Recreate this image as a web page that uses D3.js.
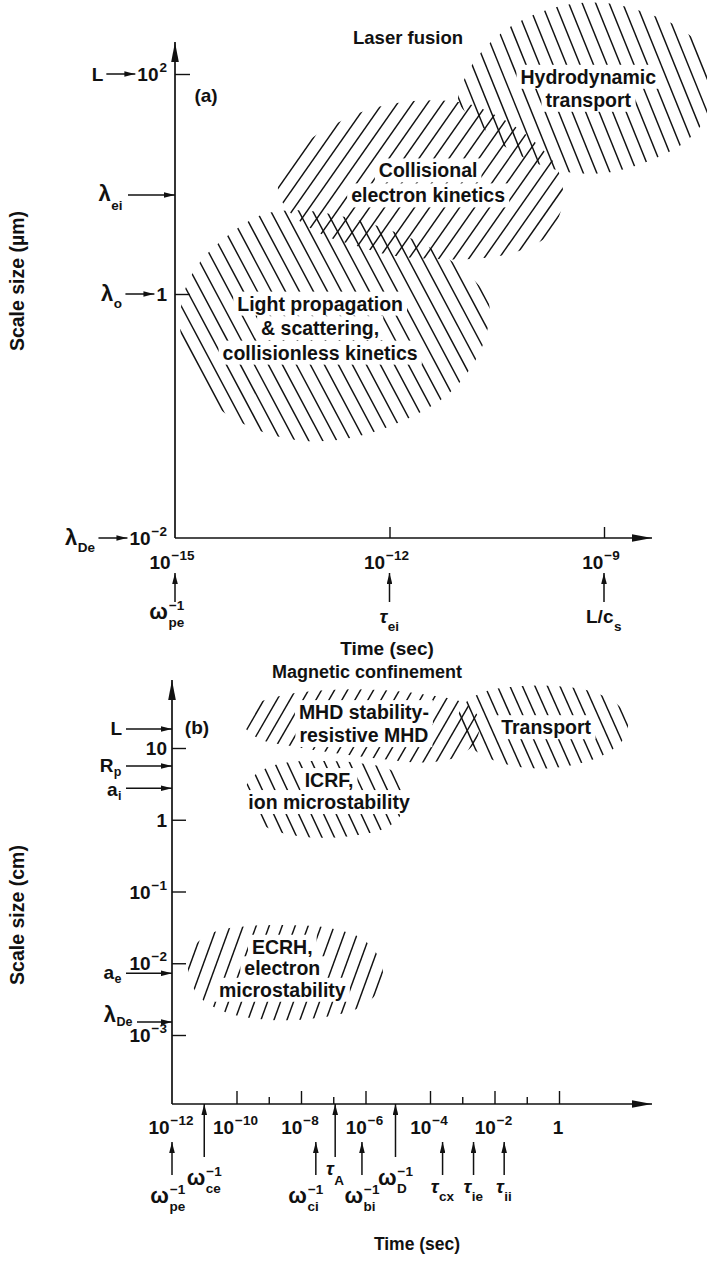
<!DOCTYPE html>
<html>
<head>
<meta charset="utf-8">
<script src="https://cdn.jsdelivr.net/npm/d3@7"></script>
<style>
  body { margin: 0; background: #fff; }
  text { font-family: "Liberation Sans", Arial, Helvetica, sans-serif; font-weight: bold; fill: #111; }
</style>
</head>
<body>
<div id="chart"></div>
<script>
const width = 707, height = 1261;

// ---------- panel (a): laser fusion ----------
const aTimeTicks = [1e-15, 1e-12, 1e-9];
const aTimeTickExp = ["−15", "−12", "−9"];
const aSizeTicks = [1e-2, 1, 1e2];
const aSizeTickBase = ["10", "1", "10"];
const aSizeTickExp = ["−2", "", "2"];
const aSizeNames = [{ base: "λ", sub: "De" }, { base: "λ", sub: "o" }, { base: "L" }];
const aAxisMarks = [{ value: Math.pow(10, 0.9), base: "λ", sub: "ei" }];
const aTimeMarks = [
  { value: 1e-15, base: "ω", sup: "−1", sub: "pe" },
  { value: 1e-12, base: "τ", sub: "ei" },
  { value: 1e-9, base: "L/c", sub: "s" }
];
// outlines in log10(sec), log10(µm)
const aRegions = [
  { name: "light", lines: ["Light propagation", "& scattering,", "collisionless kinetics"], at: [-12.97, -0.28],
    outline: [[-14.93, -0.25], [-14.86, 0.04], [-14.65, 0.29], [-14.30, 0.51], [-13.78, 0.72], [-13.22, 0.76],
      [-12.62, 0.70], [-11.99, 0.58], [-11.43, 0.42], [-10.94, 0.20], [-10.62, -0.05], [-10.65, -0.34],
      [-10.87, -0.61], [-11.22, -0.84], [-11.78, -1.03], [-12.55, -1.18], [-13.25, -1.20], [-13.95, -1.09],
      [-14.48, -0.89], [-14.82, -0.58]] },
  { name: "collisional", lines: ["Collisional", "electron kinetics"], at: [-11.46, 1.01],
    outline: [[-13.56, 0.95], [-13.43, 1.19], [-13.18, 1.37], [-12.83, 1.52], [-12.41, 1.65], [-11.85, 1.74],
      [-11.29, 1.76], [-10.90, 1.73], [-10.59, 1.65], [-10.24, 1.52], [-9.90, 1.34], [-9.66, 1.15],
      [-9.57, 0.92], [-9.62, 0.72], [-9.80, 0.52], [-10.24, 0.38], [-10.80, 0.32], [-11.43, 0.32],
      [-11.97, 0.35], [-12.48, 0.44], [-13.00, 0.56], [-13.39, 0.74]] },
  { name: "hydro", lines: ["Hydrodynamic", "transport"], at: [-9.22, 1.87],
    outline: [[-11.04, 1.76], [-10.90, 2.02], [-10.66, 2.24], [-10.31, 2.43], [-9.90, 2.56], [-9.41, 2.64],
      [-8.92, 2.64], [-8.43, 2.56], [-7.94, 2.42], [-7.59, 2.20], [-7.43, 1.90], [-7.55, 1.63],
      [-7.83, 1.40], [-8.33, 1.22], [-8.89, 1.11], [-9.41, 1.10], [-9.83, 1.16], [-10.15, 1.25],
      [-10.41, 1.35], [-10.66, 1.49], [-10.90, 1.63]] }
];

// ---------- panel (b): magnetic confinement ----------
const bTimeTicksMajor = [1e-12, 1e-10, 1e-8, 1e-6, 1e-4, 1e-2, 1];
const bTimeTickExp = ["−12", "−10", "−8", "−6", "−4", "−2", ""];
const bTimeTicksMinor = [1e-9, 1e-7, 1e-3, 1e-1];
const bSizeTicks = [1e-3, 1e-2, 1e-1, 1, 10];
const bSizeTickBase = ["10", "10", "10", "1", "10"];
const bSizeTickExp = ["−3", "−2", "−1", "", ""];
const bSizeMarks = [
  { value: Math.pow(10, 1.265), base: "L" },
  { value: Math.pow(10, 0.75), base: "R", sub: "p" },
  { value: Math.pow(10, 0.44), base: "a", sub: "i" },
  { value: Math.pow(10, -2.14), base: "a", sub: "e" },
  { value: Math.pow(10, -2.82), base: "λ", sub: "De" }
];
const bTimeMarks = [
  { value: 1e-12, base: "ω", sup: "−1", sub: "pe", long: false },
  { value: 1e-11, base: "ω", sup: "−1", sub: "ce", long: true },
  { value: Math.pow(10, -7.54), base: "ω", sup: "−1", sub: "ci", long: false },
  { value: Math.pow(10, -6.94), base: "τ", sub: "A", long: true },
  { value: Math.pow(10, -6.11), base: "ω", sup: "−1", sub: "bi", long: false },
  { value: Math.pow(10, -5.07), base: "ω", sup: "−1", sub: "D", long: true },
  { value: Math.pow(10, -3.61), base: "τ", sub: "cx", long: false },
  { value: Math.pow(10, -2.65), base: "τ", sub: "ie", long: false },
  { value: Math.pow(10, -1.70), base: "τ", sub: "ii", long: false }
];
// outlines in log10(sec), log10(cm)
const bRegions = [
  { name: "mhd", lines: ["MHD stability-", "resistive MHD"], at: [-6.05, 1.34],
    outline: [[-9.81, 1.36], [-9.44, 1.60], [-8.51, 1.74], [-7.12, 1.81], [-5.58, 1.81], [-4.04, 1.74],
      [-2.96, 1.63], [-2.49, 1.42], [-2.56, 1.11], [-3.05, 0.90], [-4.04, 0.80], [-5.58, 0.85],
      [-7.12, 0.94], [-8.36, 1.03], [-9.35, 1.14]] },
  { name: "transport", lines: ["Transport"], at: [-0.40, 1.29],
    outline: [[-3.17, 1.32], [-2.96, 1.60], [-2.34, 1.78], [-1.26, 1.86], [-0.02, 1.86], [1.06, 1.78],
      [1.83, 1.60], [2.14, 1.36], [1.98, 1.11], [1.36, 0.90], [0.28, 0.75], [-0.95, 0.72],
      [-2.03, 0.83], [-2.80, 1.04]] },
  { name: "icrf", lines: ["ICRF,", "ion microstability"], at: [-7.13, 0.40],
    outline: [[-9.75, 0.41], [-9.44, 0.62], [-8.67, 0.78], [-7.43, 0.82], [-6.20, 0.79], [-5.12, 0.67],
      [-4.72, 0.41], [-4.81, 0.14], [-5.27, -0.09], [-6.51, -0.23], [-8.05, -0.23], [-9.13, -0.09],
      [-9.65, 0.14]] },
  { name: "ecrh", lines: ["ECRH,", "electron", "microstability"], at: [-8.58, -2.07],
    outline: [[-11.51, -2.02], [-11.29, -1.75], [-10.67, -1.56], [-9.59, -1.48], [-8.36, -1.47], [-7.12, -1.51],
      [-6.04, -1.68], [-5.49, -2.02], [-5.58, -2.37], [-6.20, -2.62], [-7.43, -2.76], [-8.98, -2.79],
      [-10.36, -2.68], [-11.20, -2.44]] }
];

// hatch styles per region
const hatchStyle = {
  light: { dir: "\\", angle: 62, gap: 14, lineH: 24.5 },
  collisional: { dir: "/", angle: 55, gap: 15, lineH: 25 },
  hydro: { dir: "\\", angle: 68, gap: 13.5, lineH: 23 },
  mhd: { dir: "/", angle: 60, gap: 13, lineH: 23 },
  transport: { dir: "\\", angle: 66, gap: 12.5, lineH: 23 },
  icrf: { dir: "\\", angle: 65, gap: 12.5, lineH: 22 },
  ecrh: { dir: "/", angle: 70, gap: 13, lineH: 21.5 }
};

// ---------- scales ----------
const xa = d3.scaleLog().domain([1e-15, 1e-9]).range([175, 604]);
const ya = d3.scaleLog().domain([1e-2, 1, 1e2]).range([538, 294, 74]);
const xb = d3.scaleLog().domain([1e-12, 1]).range([172, 559]);
const yb = d3.scaleLog().domain([1e-3, 10]).range([1035, 748]);
const bAxisY = 1104;

const svg = d3.select("#chart").append("svg").attr("width", width).attr("height", height);
const defs = svg.append("defs");

function addHead(id, len, half) {
  defs.append("marker").attr("id", id)
    .attr("viewBox", `0 0 ${len} ${half * 2}`)
    .attr("refX", len).attr("refY", half)
    .attr("markerWidth", len).attr("markerHeight", half * 2)
    .attr("markerUnits", "userSpaceOnUse").attr("orient", "auto")
    .append("path").attr("d", `M0,0L${len},${half}L0,${half * 2}Z`).attr("fill", "#111");
}
addHead("head", 11, 2.8);
addHead("bigHead", 20, 3.8);

const hatchLayer = svg.append("g");
const boxLayer = svg.append("g");
const inkLayer = svg.append("g");

function arrow(x1, y1, x2, y2, head, w) {
  inkLayer.append("line").attr("x1", x1).attr("y1", y1).attr("x2", x2).attr("y2", y2)
    .attr("stroke", "#111").attr("stroke-width", w || 1.5)
    .attr("marker-end", `url(#${head || "head"})`);
}

// text with stacked superscript / subscript
function sym(x, y, d, o) {
  o = Object.assign({ size: 19, small: 13.5, anchor: "middle", supDy: -9, subDy: 8 }, o);
  const grp = inkLayer.append("g");
  const greek = /[ωλ]/.test(d.base);
  const b = grp.append("text").attr("font-size", greek ? o.size + 3 : o.size)
    .attr("font-style", d.base === "τ" ? "italic" : null).text(d.base);
  const w = b.node().getComputedTextLength();
  let w2 = 0;
  if (d.sup) {
    const t = grp.append("text").attr("x", w + 1).attr("y", o.supDy).attr("font-size", o.small).text(d.sup);
    w2 = Math.max(w2, t.node().getComputedTextLength());
  }
  if (d.sub) {
    const t = grp.append("text").attr("x", w + 0.5).attr("y", o.subDy).attr("font-size", o.small).text(d.sub);
    w2 = Math.max(w2, t.node().getComputedTextLength());
  }
  const total = w + (w2 ? w2 + 1 : 0);
  const shift = o.anchor === "middle" ? total / 2 : o.anchor === "end" ? total : 0;
  grp.attr("transform", `translate(${x - shift},${y})`);
  return { left: x - shift, right: x - shift + total };
}

function drawRegion(reg, xs, ys) {
  const st = hatchStyle[reg.name];
  const pts = reg.outline.map(p => [xs(Math.pow(10, p[0])), ys(Math.pow(10, p[1]))]);
  const d = d3.line().curve(d3.curveCatmullRomClosed.alpha(0.5))(pts);
  const id = "clip-" + reg.name;
  defs.append("clipPath").attr("id", id).append("path").attr("d", d);
  const [x0, x1] = d3.extent(pts, p => p[0]);
  const [y0, y1] = d3.extent(pts, p => p[1]);
  const a = st.angle * Math.PI / 180;
  const half = (y1 - y0) / 2 + 12;
  const run = half / Math.tan(a);
  const yc = (y0 + y1) / 2;
  const s = st.dir === "/" ? -1 : 1;
  hatchLayer.append("g").attr("clip-path", `url(#${id})`)
    .selectAll("line").data(d3.range(x0 - run - 5, x1 + run + 5, st.gap)).join("line")
    .attr("x1", c => c - run).attr("y1", yc - s * half)
    .attr("x2", c => c + run).attr("y2", yc + s * half)
    .attr("stroke", "#111").attr("stroke-width", 1.45);

  const lx = xs(Math.pow(10, reg.at[0])), ly = ys(Math.pow(10, reg.at[1]));
  reg.lines.forEach((txt, i) => {
    const y = ly + (i - (reg.lines.length - 1) / 2) * st.lineH + 7;
    const t = inkLayer.append("text").attr("x", lx).attr("y", y)
      .attr("text-anchor", "middle").attr("font-size", 19.5).text(txt);
    const bb = t.node().getBBox();
    boxLayer.append("rect").attr("x", bb.x - 4).attr("y", bb.y - 1)
      .attr("width", bb.width + 8).attr("height", bb.height + 2).attr("fill", "#fff");
  });
}

// ================= panel (a) =================
aRegions.forEach(r => drawRegion(r, xa, ya));

const aX0 = xa(1e-15), aY0 = ya(1e-2);
arrow(aX0, aY0, aX0, 42, "bigHead", 1.7);
arrow(aX0, aY0, 652, aY0, "bigHead", 1.7);

inkLayer.append("g").attr("transform", `translate(0,${aY0})`)
  .call(d3.axisBottom(xa).tickValues(aTimeTicks.slice(1)).tickSize(-11).tickFormat("").tickSizeOuter(0))
  .call(g => g.select(".domain").remove())
  .call(g => g.selectAll("line").attr("stroke", "#111").attr("stroke-width", 1.4));
inkLayer.append("g").attr("transform", `translate(${aX0},0)`)
  .call(d3.axisLeft(ya).tickValues(aSizeTicks.slice(1)).tickSize(-15).tickFormat("").tickSizeOuter(0))
  .call(g => g.select(".domain").remove())
  .call(g => g.selectAll("line").attr("stroke", "#111").attr("stroke-width", 1.4));

// time tick labels + marks below
aTimeTicks.forEach((v, i) => {
  sym(xa(v) - 3, aY0 + 31, { base: "10", sup: aTimeTickExp[i] }, {});
});
aTimeMarks.forEach(m => {
  const x = xa(m.value);
  arrow(x, 602, x, 573);
  const nudge = m.sub === "pe" ? -8 : 0;
  sym(x + nudge, 602 + (m.sup ? 17 : 21), m, {});
});

// size tick labels with named arrows
aSizeTicks.forEach((v, i) => {
  const y = ya(v);
  const r = sym(167, y + 7, { base: aSizeTickBase[i], sup: aSizeTickExp[i] }, { anchor: "end" });
  arrow(r.left - 31, y, r.left - 2, y);
  sym(r.left - 34, y + 7, aSizeNames[i], { anchor: "end", subDy: 7 });
});
aAxisMarks.forEach(m => {
  const y = ya(m.value);
  arrow(128, y, aX0, y);
  sym(123, y + 6, m, { anchor: "end", subDy: 9 });
});

inkLayer.append("text").attr("x", 408).attr("y", 44).attr("text-anchor", "middle").attr("font-size", 18.5).text("Laser fusion");
inkLayer.append("text").attr("x", 206).attr("y", 102).attr("text-anchor", "middle").attr("font-size", 19).text("(a)");
inkLayer.append("text").attr("x", 387).attr("y", 655).attr("text-anchor", "middle").attr("font-size", 19).text("Time (sec)");
inkLayer.append("text").attr("transform", "translate(24,281) rotate(-90)").attr("text-anchor", "middle")
  .attr("font-size", 19.5).text("Scale size (µm)");

// ================= panel (b) =================
bRegions.forEach(r => drawRegion(r, xb, yb));

const bX0 = xb(1e-12);
arrow(bX0, bAxisY, bX0, 680, "bigHead", 1.7);
arrow(bX0, bAxisY, 652, bAxisY, "bigHead", 1.7);

inkLayer.append("g").attr("transform", `translate(0,${bAxisY})`)
  .call(d3.axisBottom(xb).tickValues(bTimeTicksMajor.slice(1)).tickSize(-13).tickFormat("").tickSizeOuter(0))
  .call(g => g.select(".domain").remove())
  .call(g => g.selectAll("line").attr("stroke", "#111").attr("stroke-width", 1.4));
inkLayer.append("g").attr("transform", `translate(0,${bAxisY})`)
  .call(d3.axisBottom(xb).tickValues(bTimeTicksMinor).tickSize(-7).tickFormat("").tickSizeOuter(0))
  .call(g => g.select(".domain").remove())
  .call(g => g.selectAll("line").attr("stroke", "#111").attr("stroke-width", 1.4));
inkLayer.append("g").attr("transform", `translate(${bX0},0)`)
  .call(d3.axisLeft(yb).tickValues(bSizeTicks).tickSize(-14).tickFormat("").tickSizeOuter(0))
  .call(g => g.select(".domain").remove())
  .call(g => g.selectAll("line").attr("stroke", "#111").attr("stroke-width", 1.4));

bTimeTicksMajor.forEach((v, i) => {
  sym(xb(v) - 1, bAxisY + 30, { base: bTimeTickExp[i] ? "10" : "1", sup: bTimeTickExp[i] }, {});
});
bTimeMarks.forEach(m => {
  const x = xb(m.value);
  const tail = m.long ? 1157 : 1175;
  arrow(x, tail, x, m.long ? bAxisY : 1142);
  const nudge = m.sub === "ci" ? -10 : m.sub === "pe" ? -4 : 0;
  sym(x + nudge, tail + (m.sup ? 28 : 18), m, { subDy: m.sub === "A" ? 10 : 8 });
});

bSizeTicks.forEach((v, i) => {
  sym(167, yb(v) + 7, { base: bSizeTickBase[i], sup: bSizeTickExp[i] }, { anchor: "end" });
});
bSizeMarks.forEach(m => {
  const y = yb(m.value);
  const start = m.base === "λ" ? 137 : 126;
  arrow(start, y, bX0, y);
  const dy = m.base === "λ" ? 0 : m.sub === "i" ? 8 : 6;
  sym(start - 4, y + dy, m, { anchor: "end", subDy: 4, small: 12.5 });
});

inkLayer.append("text").attr("x", 367).attr("y", 678).attr("text-anchor", "middle").attr("font-size", 18).text("Magnetic confinement");
inkLayer.append("text").attr("x", 197).attr("y", 734).attr("text-anchor", "middle").attr("font-size", 19).text("(b)");
inkLayer.append("text").attr("x", 417).attr("y", 1250).attr("text-anchor", "middle").attr("font-size", 17.5).text("Time (sec)");
inkLayer.append("text").attr("transform", "translate(24,915) rotate(-90)").attr("text-anchor", "middle")
  .attr("font-size", 19.5).text("Scale size (cm)");
</script>
</body>
</html>
